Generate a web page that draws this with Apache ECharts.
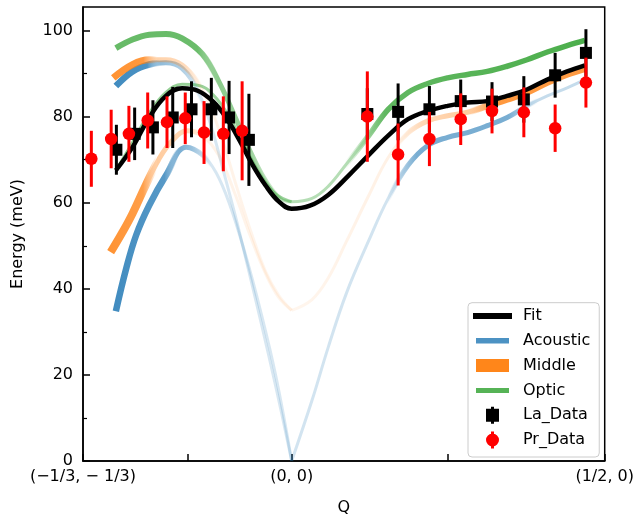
<!DOCTYPE html>
<html><head><meta charset="utf-8">
<script src="https://cdn.jsdelivr.net/npm/echarts@6/dist/echarts.min.js"></script>
<style>html,body{margin:0;padding:0;background:#fff}#c{width:637px;height:521px}</style>
</head><body><div id="c"></div>
<script>
// ---- axis ticks / labels ----
const xLabelValues = [0, 4, 10];
const xLabelTexts = ['(−1/3, − 1/3)', '(0, 0)', '(1/2, 0)'];
const xTickValues = [0, 2, 4, 7, 10];
const yLabelValues = [0, 20, 40, 60, 80, 100];
const yMinorValues = [10, 30, 50, 70, 90];

// ---- Fit curve ----
const fitX = [0.63, 0.95, 1.27, 1.59, 1.9, 2.2, 2.5, 2.75, 3.0, 3.25, 3.5, 3.75, 4.0, 4.35, 4.7, 5.09, 5.47, 5.85, 6.23, 6.61, 6.99, 7.37, 7.75, 8.13, 8.51, 8.9, 9.28, 9.62];
const fitY = [67.5, 72.9, 79.8, 84.8, 86.6, 86.0, 83.4, 79.6, 74.5, 68.8, 64.0, 60.3, 58.6, 59.3, 61.8, 66.3, 71.0, 75.6, 79.4, 81.3, 82.5, 83.3, 83.6, 84.8, 86.3, 88.6, 90.5, 91.9];

// ---- Acoustic ----
const acUpX = [0.63, 0.95, 1.27, 1.59, 1.9, 2.2, 2.45, 2.7, 2.95, 3.24, 3.56, 3.8, 4.0];
const acUpY = [87.1, 90.5, 92.1, 92.5, 91.2, 86.0, 78.0, 67.0, 55.5, 41.0, 24.5, 11.5, 0];
const acLoX = [0.63, 0.83, 1.02, 1.27, 1.59, 1.98, 2.3, 2.55, 2.8, 3.1, 3.4, 3.7, 4.0];
const acLoY = [34.8, 44.8, 52.5, 59.4, 66.3, 72.9, 71.0, 67.0, 60.0, 48.5, 35.0, 19.5, 0];
// ---- Middle ----
const midUpX = [0.58, 0.95, 1.27, 1.59, 1.9, 2.2, 2.45, 2.7, 2.95, 3.24, 3.5, 3.75, 4.0];
const midUpY = [89.0, 92.1, 93.2, 93.2, 92.0, 88.0, 82.0, 73.5, 63.5, 52.5, 44.0, 38.5, 35.0];
const midLoX = [0.53, 0.75, 0.95, 1.2, 1.45, 1.7, 2.0, 2.3, 2.6, 2.9, 3.2, 3.5, 3.75, 4.0];
const midLoY = [48.5, 53.0, 57.5, 64.0, 70.0, 74.3, 76.7, 75.5, 71.0, 62.5, 52.5, 43.5, 38.0, 35.0];
// ---- Optic ----
const optUpX = [0.63, 0.95, 1.27, 1.59, 1.9, 2.29, 2.61, 2.93, 3.24, 3.43, 3.62, 3.8, 4.0];
const optUpY = [95.9, 97.9, 99.0, 99.2, 98.2, 94.5, 88.0, 79.5, 71.0, 66.5, 63.0, 60.8, 60.2];
const optLoX = [0.63, 0.95, 1.27, 1.59, 1.9, 2.2, 2.5, 2.8, 3.1, 3.4, 3.7, 4.0];
const optLoY = [67.5, 74.0, 80.8, 85.6, 87.5, 87.3, 85.0, 80.0, 73.0, 66.5, 62.0, 60.2];
// ---- right-hand branches ----
const rightX = [4.0, 4.39, 4.7, 5.05, 5.47, 5.85, 6.23, 6.61, 6.99, 7.37, 7.75, 8.13, 8.51, 8.9, 9.28, 9.62];
const acRY  = [0, 14.1, 26.4, 39.0, 51.0, 61.0, 68.7, 73.3, 75.2, 76.3, 77.9, 79.8, 82.5, 84.8, 86.7, 88.6];
const midRY = [35.0, 37.5, 42.5, 51.0, 61.5, 70.5, 76.2, 79.0, 80.2, 81.0, 82.5, 84.0, 85.6, 87.9, 89.8, 91.1];
const optRY = [60.2, 61.0, 63.8, 69.0, 75.5, 81.7, 85.6, 87.7, 89.0, 89.8, 90.5, 91.7, 93.2, 95.0, 96.5, 97.7];

// ---- measured data ----
const laX   = [0.64, 0.99, 1.34, 1.72, 2.08, 2.46, 2.80, 3.18, 5.45, 6.04, 6.64, 7.24, 7.84, 8.45, 9.05, 9.64];
const laY   = [72.3, 76.0, 77.5, 79.8, 81.7, 81.7, 79.8, 74.6, 80.6, 81.1, 81.7, 83.6, 83.5, 84.0, 89.6, 94.8];
const laErr = [5.8, 6.1, 6.3, 7.1, 6.5, 7.3, 8.5, 10.7, 6.0, 6.6, 5.4, 5.0, 4.5, 5.4, 5.2, 5.5];
const prX   = [0.16, 0.54, 0.88, 1.24, 1.61, 1.96, 2.32, 2.69, 3.05, 5.45, 6.04, 6.64, 7.24, 7.84, 8.45, 9.05, 9.64];
const prY   = [70.2, 74.8, 76.0, 79.1, 78.7, 79.6, 76.3, 76.0, 76.7, 80.0, 71.2, 74.8, 79.4, 81.3, 81.0, 77.3, 87.9];
const prErr = [6.5, 6.8, 6.5, 6.5, 6.0, 6.0, 7.3, 8.7, 11.5, 10.5, 7.2, 6.3, 6.0, 5.2, 5.8, 5.5, 5.8];

// ---- styling (kept apart from data) ----
const FONT = 'DejaVu Sans';
const BLUE = '31,119,180', ORANGE = '255,127,14', GREEN = '44,160,44';
// intensity profile stops: [x, alpha of thin layer, alpha of mid layer, alpha of thick layer]
const curveDefs = [
  {name:'Acoustic', rgb:BLUE, xs:acUpX, ys:acUpY, thick:6.5, prof:[[0.63,0,0,0.85],[1.27,0,0,0.8],[1.5,0,0.5,0],[1.97,0,0.33,0],[2.3,0.18,0,0],[4.0,0.17,0,0]]},
  {name:'Acoustic', rgb:BLUE, xs:acLoX, ys:acLoY, thick:6.5, prof:[[0.63,0,0,0.85],[1.59,0,0,0.75],[1.85,0,0.6,0],[2.1,0,0.45,0],[2.45,0.18,0,0],[4.0,0.17,0,0]]},
  {name:'Acoustic', rgb:BLUE, xs:rightX, ys:acRY, thick:6.5, prof:[[4.0,0.2,0,0],[5.85,0.2,0,0],[6.4,0,0.6,0],[8.13,0,0.6,0],[8.7,0.26,0,0],[9.62,0.26,0,0]]},
  {name:'Middle', rgb:ORANGE, xs:midUpX, ys:midUpY, thick:7, prof:[[0.58,0,0,0.85],[1.2,0,0,0.8],[1.45,0,0.35,0],[1.97,0,0.28,0],[2.3,0.1,0,0],[4.0,0.07,0,0]]},
  {name:'Middle', rgb:ORANGE, xs:midLoX, ys:midLoY, thick:8, prof:[[0.53,0,0,0.85],[1.2,0,0,0.75],[1.45,0,0.4,0],[2.0,0,0.3,0],[2.4,0.1,0,0],[4.0,0.07,0,0]]},
  {name:'Middle', rgb:ORANGE, xs:rightX, ys:midRY, thick:6.5, prof:[[4.0,0.07,0,0],[6.0,0.11,0,0],[6.5,0,0.3,0],[7.37,0,0.4,0],[7.8,0,0,0.8],[9.62,0,0,0.78]]},
  {name:'Optic', rgb:GREEN, xs:optUpX, ys:optUpY, thick:6, prof:[[0.63,0,0,0.72],[2.2,0,0,0.7],[2.6,0,0.55,0],[3.2,0,0.45,0],[4.0,0.35,0,0]]},
  {name:'Optic', rgb:GREEN, xs:optLoX, ys:optLoY, thick:6, prof:[[0.63,0.55,0,0],[4.0,0.4,0,0]]},
  {name:'Optic', rgb:GREEN, xs:rightX, ys:optRY, thick:5.5, prof:[[4.0,0.35,0,0],[5.05,0.35,0,0],[5.8,0,0,0.75],[9.62,0,0,0.85]]}
];
const LAYER_W = [3, 5];

function layeredSeries(def) {
  const x0 = def.xs[0], x1 = def.xs[def.xs.length - 1];
  const data = def.xs.map((x, i) => [x, def.ys[i]]);
  const out = [];
  [0, 1, 2].forEach(k => {
    if (!def.prof.some(p => p[k + 1] > 0)) return;
    const stops = def.prof.map(p => ({ offset: Math.min(1, Math.max(0, (p[0] - x0) / (x1 - x0))), color: `rgba(${def.rgb},${p[k + 1]})` }));
    out.push({
      type: 'line', name: def.name, data, smooth: 0.4, symbol: 'none', z: 2, silent: true,
      lineStyle: { width: k < 2 ? LAYER_W[k] : def.thick, cap: 'butt', join: 'round',
        color: new echarts.graphic.LinearGradient(0, 0, 1, 0, stops) },
      itemStyle: { color: `rgb(${def.rgb})` },
      emphasis: { disabled: true }
    });
  });
  return out;
}

function errSeries(name, xs, ys, es, color, z) {
  return {
    type: 'custom', name, z, silent: true,
    data: xs.map((x, i) => [x, ys[i], es[i]]),
    encode: { x: 0, y: 1 },
    renderItem: (params, api) => {
      const x = api.value(0), y = api.value(1), e = api.value(2);
      const p1 = api.coord([x, y - e]), p2 = api.coord([x, y + e]);
      return { type: 'line', shape: { x1: p1[0], y1: p1[1], x2: p2[0], y2: p2[1] },
               style: { stroke: color, lineWidth: 3 } };
    }
  };
}

const ICON_BOX = 'M0,0 M45,17 ';
const legendData = [
  {name:'Fit', icon:'path://' + ICON_BOX + 'M0,5.5 L39,5.5 L39,11.5 L0,11.5 Z', itemStyle:{color:'#000', opacity:1, borderWidth:0}},
  {name:'Acoustic', icon:'path://' + ICON_BOX + 'M3,5.7 L36,5.7 L36,11.3 L3,11.3 Z', itemStyle:{color:'rgba(31,119,180,0.8)', opacity:1, borderWidth:0}},
  {name:'Middle', icon:'path://' + ICON_BOX + 'M3,2 L36,2 L36,15 L3,15 Z', itemStyle:{color:'rgba(255,127,14,0.95)', opacity:1, borderWidth:0}},
  {name:'Optic', icon:'path://' + ICON_BOX + 'M3,6 L36,6 L36,11 L3,11 Z', itemStyle:{color:'rgba(44,160,44,0.8)', opacity:1, borderWidth:0}},
  {name:'La_Data', icon:'path://' + ICON_BOX + 'M13,2 L26,2 L26,15 L13,15 Z M18,0 L21,0 L21,17 L18,17 Z', itemStyle:{color:'#000', opacity:1, borderWidth:0}},
  {name:'Pr_Data', icon:'path://' + ICON_BOX + 'M13,8.5 A6.5,6.5 0 1 1 26,8.5 A6.5,6.5 0 1 1 13,8.5 Z M18,0 L21,0 L21,17 L18,17 Z', itemStyle:{color:'#ff0000', opacity:1, borderWidth:0}}
];

const series = [];
curveDefs.forEach(d => series.push(...layeredSeries(d)));
series.push({
  type: 'line', name: 'Fit', data: fitX.map((x, i) => [x, fitY[i]]), smooth: 0.4, symbol: 'none', z: 3, silent: true,
  lineStyle: { color: '#000', width: 4.5 }, itemStyle: { color: '#000' }, emphasis: { disabled: true }
});
series.push(errSeries('La_err', laX, laY, laErr, '#000', 4));
series.push({ type: 'scatter', name: 'La_Data', z: 4, silent: true, symbol: 'rect', symbolSize: 12,
  data: laX.map((x, i) => [x, laY[i]]), itemStyle: { color: '#000', opacity: 1 } });
series.push(errSeries('Pr_err', prX, prY, prErr, '#ff0000', 5));
series.push({ type: 'scatter', name: 'Pr_Data', z: 5, silent: true, symbol: 'circle', symbolSize: 12.5,
  data: prX.map((x, i) => [x, prY[i]]), itemStyle: { color: '#ff0000', opacity: 1 } });

const chart = echarts.init(document.getElementById('c'), null, { renderer: 'canvas' });
const textBase = { color: '#000', fontSize: 16, fontFamily: FONT };
chart.setOption({
  animation: false,
  backgroundColor: '#fff',
  grid: { left: 83, right: 29, top: 7, bottom: 56.5, show: true, borderColor: '#000', borderWidth: 1.5, backgroundColor: 'transparent' },
  legend: {
    data: legendData, orient: 'vertical', left: 468, top: 302.7,
    itemWidth: 45, itemHeight: 17, itemGap: 7.8, padding: [4.8, 9, 8.5, 5],
    borderColor: '#cccccc', borderWidth: 1, borderRadius: 4, backgroundColor: 'rgba(255,255,255,0.8)',
    textStyle: textBase, selectedMode: false, itemStyle: { borderWidth: 0 }
  },
  xAxis: {
    type: 'value', min: 0, max: 10, position: 'bottom',
    axisLine: { show: true, onZero: false, lineStyle: { color: '#000', width: 1.5 } },
    axisTick: { show: true, inside: true, length: 7, customValues: xTickValues, lineStyle: { color: '#000', width: 1.5 } },
    axisLabel: { customValues: xLabelValues, formatter: v => xLabelTexts[xLabelValues.indexOf(v)], margin: 8, ...textBase },
    splitLine: { show: false },
    name: 'Q', nameLocation: 'middle', nameGap: 39, nameTextStyle: textBase
  },
  yAxis: [{
    type: 'value', min: 0, max: 105.46, position: 'left',
    axisLine: { show: true, onZero: false, lineStyle: { color: '#000', width: 1.5 } },
    axisTick: { show: true, inside: true, length: 7, customValues: yLabelValues, lineStyle: { color: '#000', width: 1.5 } },
    axisLabel: { customValues: yLabelValues, margin: 10, ...textBase },
    splitLine: { show: false },
    name: 'Energy (meV)', nameLocation: 'middle', nameGap: 57, nameTextStyle: textBase
  }, {
    type: 'value', min: 0, max: 105.46, position: 'left',
    axisLine: { show: false },
    axisTick: { show: true, inside: true, length: 4, customValues: yMinorValues, lineStyle: { color: '#000', width: 1.2 } },
    axisLabel: { show: false }, splitLine: { show: false }
  }],
  series
});
</script>
</body></html>
